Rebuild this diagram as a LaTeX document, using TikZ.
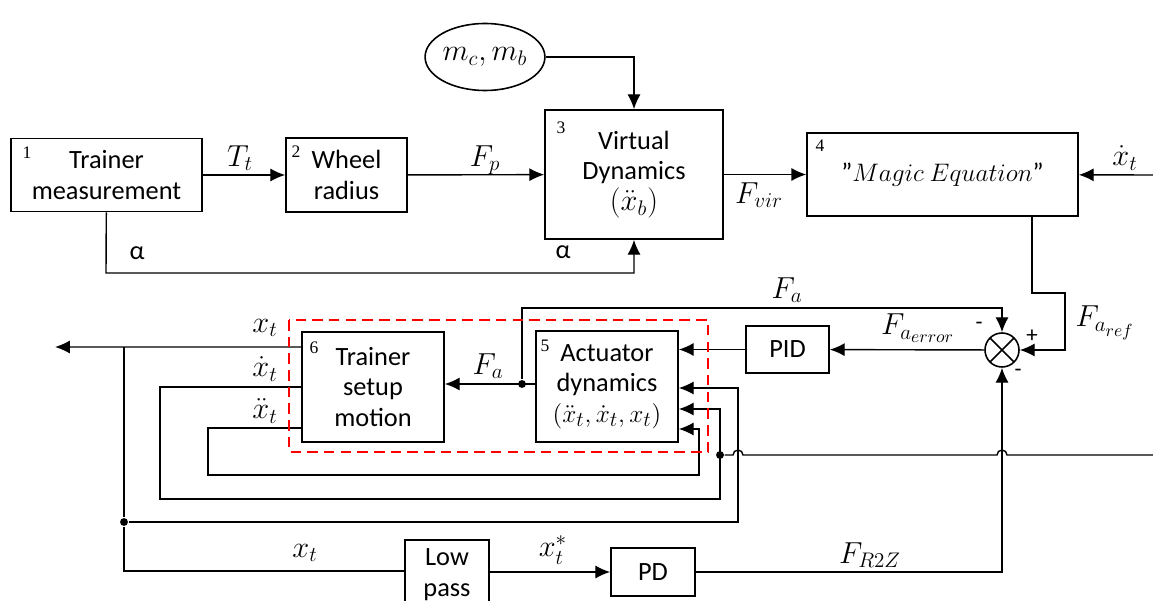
\documentclass[tikz,border=0pt]{standalone}
\usepackage{fontspec}
\setmainfont{Carlito}
\newfontfamily\numfont{Liberation Serif}
\DeclareMathSizes{15}{15}{12}{10}
\DeclareMathSizes{16}{16}{12.5}{10}
\usetikzlibrary{shapes, arrows.meta, calc}

\tikzset{
  block/.style={draw, line width=0.9pt, align=center, inner sep=2pt},
  lbl/.style={font=\fontsize{16}{18}\selectfont, inner sep=1pt},
  num/.style={font=\numfont\fontsize{10}{12}\selectfont, inner sep=0pt},
  sign/.style={font=\fontsize{13}{15}\selectfont, inner sep=0pt},
  redbox/.style={draw=red, line width=1.6pt, dash pattern=on 6pt off 3.5pt},
  dot/.style={circle, fill, inner sep=0pt, minimum size=4.5pt},
  sumnode/.style={draw, circle, line width=0.9pt, minimum size=0.68cm, inner sep=0pt,
    path picture={\draw (path picture bounding box.north west) -- (path picture bounding box.south east)
      (path picture bounding box.north east) -- (path picture bounding box.south west);}},
}

\begin{document}
\begin{tikzpicture}[x=0.02cm, y=-0.02cm, >={Latex[length=8.5pt,width=7.5pt]}, line width=0.8pt,
  font=\fontsize{15}{17.5}\selectfont]
\useasboundingbox (0,0) rectangle (1153,601);
\node[block, minimum width=3.82cm, minimum height=1.46cm] at (106.5,175) (meas) {Trainer\\measurement};
\node[block, minimum width=2.42cm, minimum height=1.48cm] at (346.5,175) (wheel) {Wheel\\radius};
\node[draw, ellipse, line width=0.9pt, minimum width=2.28cm, minimum height=1.34cm, inner sep=0pt,
  font=\fontsize{16}{18}\selectfont] at (485,57) (mass) {$m_c,m_b$};
\node[block, minimum width=3.56cm, minimum height=2.58cm] at (634,174.5) (virt)
  {Virtual\\Dynamics\\{\fontsize{18}{20}\selectfont$(\ddot{x}_b)$}};
\node[block, minimum width=5.42cm, minimum height=1.66cm] at (942.5,174.5) (magic) {"$Magic\ Equation$"};
\node[sumnode] at (1002,350) (sum) {};
\node[block, minimum width=1.66cm, minimum height=0.94cm] at (787.5,349.5) (pid) {PID};
\node[block, minimum width=2.84cm, minimum height=2.22cm] at (607,386.5) (act) {Actuator\\dynamics\\$(\ddot{x}_t,\dot{x}_t,x_t)$};
\node[block, minimum width=2.84cm, minimum height=2.20cm] at (373,387) (setup) {Trainer\\setup\\motion};
\node[block, minimum width=1.68cm, minimum height=1.40cm] at (447,575) (low) {Low\\pass};
\node[block, minimum width=1.68cm, minimum height=0.96cm] at (653,572) (pd) {PD};

\node[num] at (27,153) (n1) {1};
\node[num] at (296,152) (n2) {2};
\node[num] at (561,128) (n3) {3};
\node[num] at (820,146) (n4) {4};
\node[num] at (545,346) (n5) {5};
\node[num] at (314,348) (n6) {6};
\node[sign] at (979,326) (s1) {-};
\node[sign] at (1032,336) (s2) {+};
\node[sign] at (1018,373) (s3) {-};

\node[lbl] at (240,158) (lTt) {$T_t$};
\node[lbl] at (485,160) (lFp) {$F_p$};
\node[lbl] at (759,195) (lFvir) {$F_{vir}$};
\node[lbl] at (1125,158) (lxin) {$\dot{x}_t$};
\node at (137,253) (la1) {α};
\node at (563,252) (la2) {α};
\node[lbl] at (787,290) (lFa1) {$F_a$};
\node[lbl] at (1105,323) (lFref) {$F_{a_{ref}}$};
\node[lbl] at (918,328) (lFerr) {$F_{a_{error}}$};
\node[lbl] at (488,366) (lFa2) {$F_a$};
\node[lbl] at (265,328) (lx) {$x_t$};
\node[lbl] at (265,369) (lxd) {$\dot{x}_t$};
\node[lbl] at (265,411) (lxdd) {$\ddot{x}_t$};
\node[lbl] at (305,553) (lxb) {$x_t$};
\node[lbl] at (553,550) (lxs) {$x_t^*$};
\node[lbl] at (870,555) (lFr2z) {$F_{R2Z}$};

\draw[->] (meas) -- (wheel);
\draw[->] (wheel) -- (virt);
\draw[->] (virt) -- (magic);
\draw[->] (mass) -| (virt);
\coordinate (alp) at (106,273);
\draw[->] (meas) -- (alp) -| (virt);
\coordinate (xin) at (1153,175);
\draw[->] (xin) -- (magic);
\coordinate (fr) at (1065,293);
\draw[->] ([xshift=1.79cm]magic.south) |- (fr) |- (sum);
\draw[->] (sum) -- (pid);
\draw[->] (pid.west) -- (pid.west -| act.east);
\node[dot] at (522,384) (faj) {};
\draw[->] (act.west |- faj) -- (setup.east |- faj);
\coordinate (fatop) at (1002,308);
\draw[->] (faj) |- (fatop) -- (sum);
\draw[->] (pd) -| (sum);
\draw[->] (low.east |- pd) -- (pd);

\coordinate (xout) at (55,347);
\draw[->] ([yshift=0.8cm]setup.west) -- (xout);
\coordinate (xtop) at (124,347);
\node[dot] at (124,522) (xj) {};
\coordinate (xbot) at (124,571);
\draw (xtop) -- (xj) -- (xbot) -- (low.west |- xbot);
\coordinate (xr) at (738,388);
\draw[->] (xj) -| (xr) -- (act.east |- xr);

\coordinate (vl) at (160,499);
\coordinate (vr) at (720,409);
\draw[->] (setup.west) -| (vl) -| (vr) -- (act.east |- vr);
\node[dot] at (720,455) (vj) {};
\coordinate (vend) at (1153,455);
\draw (vj) -- ++(13,0) arc[start angle=180, end angle=0, radius=0.1cm]
  -- ++(254,0) arc[start angle=180, end angle=0, radius=0.1cm] -- (vend);

\coordinate (al) at (208,475);
\coordinate (ar) at (699,429);
\draw[->] ([yshift=-0.82cm]setup.west) -| (al) -| (ar) -- (act.east |- ar);

\draw[redbox] (289,320) rectangle (708,452);
\end{tikzpicture}
\end{document}
